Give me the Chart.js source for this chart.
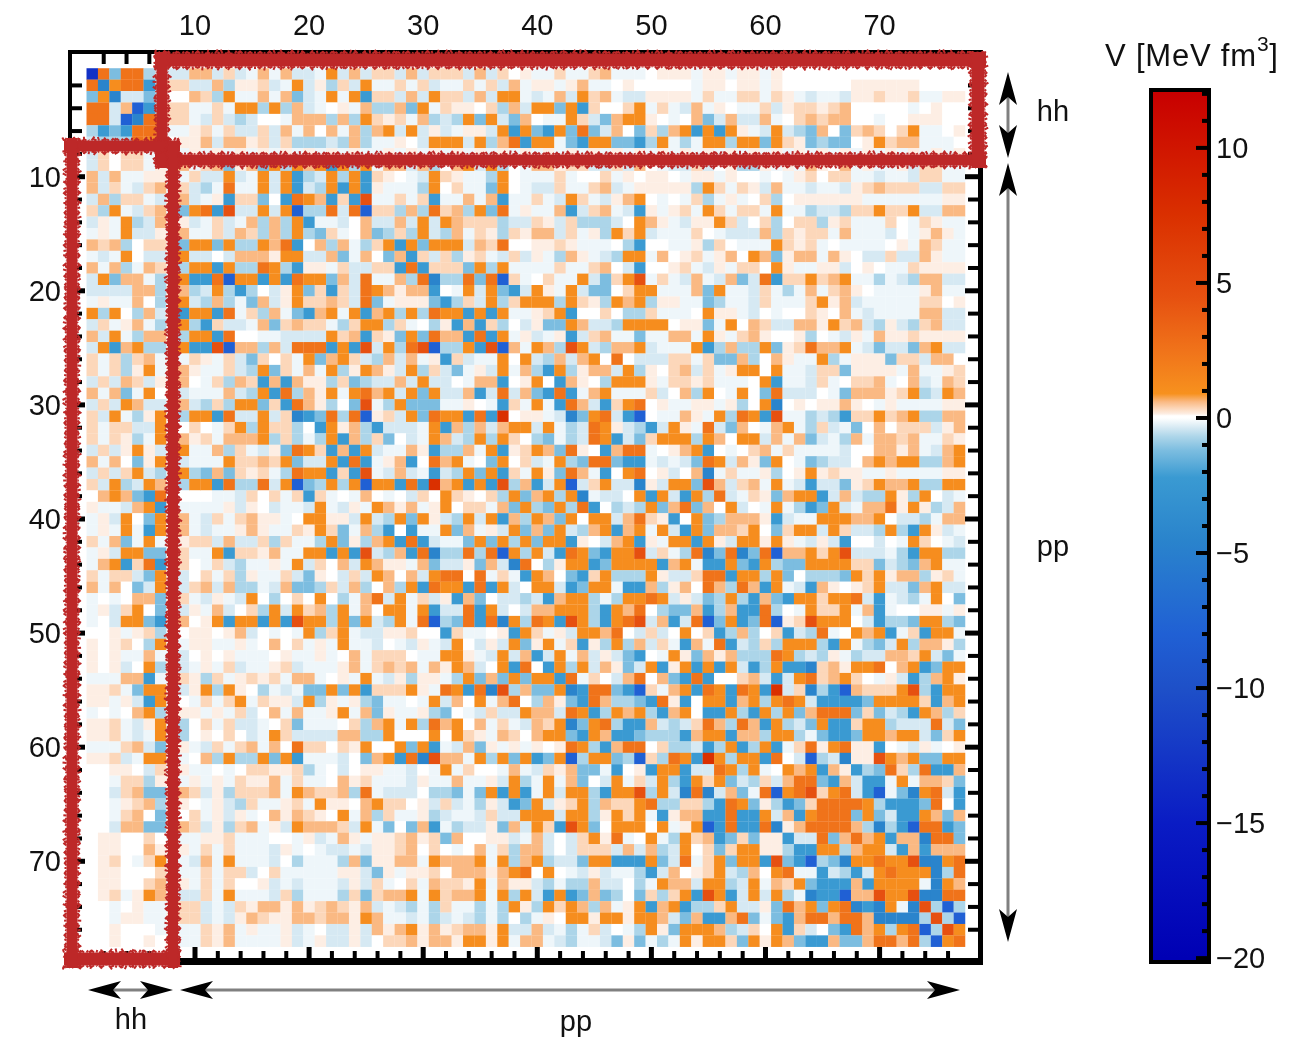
<!DOCTYPE html>
<html>
<head>
<meta charset="utf-8">
<title>V matrix</title>
<script src="https://cdn.jsdelivr.net/npm/chart.js@4"></script>
<style>
    body { margin: 0; background: #ffffff; }
    canvas { position: absolute; top: 0; }
    #matrixChart { left: 0; }
    #colorbarChart { left: 1100px; }
</style>
</head>
<body>
<canvas id="matrixChart" width="1291" height="1039"></canvas>
<canvas id="colorbarChart" width="191" height="1039"></canvas>
<script>
// level codes, one char per cell
var levelCodes = ['0', 'a', 'b', 'c', 'd', 'e', 'f', 'g', '1', '2', '3', '4', '5', '6', '7', '8'];
var levelValues = [0, 0.15, 0.35, 0.6, 1.1, 2.5, 4.5, 7.5, -0.15, -0.35, -0.7, -1.2, -2.2, -4.5, -8, -13];

// upper triangle of the symmetric matrix, row i starts at column i
// rows 8 and 9 sit under the red marker, those are rough estimates
var matrixRows = [
    '8e4ee32 22cc2b21c1c221d2c2 bb2c2bbb2c2b0a11b11bc1110aaa 1aa1aa1a0000000000000000',
    '6dee5 3bb22c3aab21d2a3b2d 11b1b211b1b2c1aa1ac110a00000 1aa0aa1a000000aaaaaa0000',
    '6224 300cb3d11c1c421d1d5 bb2c2dbb2c2dd121c2dbc122aaaa 1b11bb1ba12112aabaab11aa',
    'c75 3bb11b1dd3d3c210a1c 33c4d1baa0b3c2dd4d5b00bd1b12 c1a011b2abbabc0000010a00',
    '6e ebb12b232001ccc3c3d bab1c323d4d24c011db24cdda010 c42c22c10bcbcc00100aaa00',
    'e d11ab1b22b2c1c0c1c3 cd2d2a21aa2d5d45d4e42c04b3cd 5d5da12d234c04bcb0bd110a',
    'd0aac2ccab2b33323c3 11a02ddd2d3ce5dd145dd4453d13 1dd3dd4dba43440adbcc1110',
    'a1a1a1a1a1a1a1a1a1 1a1a1a1a1a1a1a1a1a1a1a1a1a1a 1a1a1a1a1a1a1a1a1a1a1a1a',
    'c 1bc4ac4d3dcd5d3d 1cc2c30cd2d301ccabb22b2c0122 b20a33a1a1ca0c1a11a2bb11',
    'b22d21d2d532d3d5 ba012dba113d0111b100b1a0aa01 aa1a00101ab0bb112112bb11',
    '31e11d2d523d5d5 a1113d0b114d0122b11bc21aaaaa 3db1ba2c112112abcbbb22bb',
    'a5bb405edc5b5f 11b1b511c1c511b12db12acd0101 b31a10b30aaaaaa1111111aa',
    'f22d2d733e2e7 bb3c3ebc3d4e1a11c52bc125a1ab 1db1bb1d113223bbdbbd22cc',
    '1c3c3d51120c 22c2d2dcbbb322ba2b33320dca12 aadb20b30bb3ab111b01ba11',
    'b3c3d34b10c 43b3d23c1ba3bacc2b1a3dbd2111 b01222c3babb1c111201aca1',
    'dce50c3c13 bd5d4ddd2cbe00aaba1110350011 a3b0111dbab1011110a1cb11',
    'add22c41c 04c5b2b3ab12b2a13ca123dd1c0a b1ac0dc4acc1ca022b22ca11',
    '35aa1b22 bb5e5bbb4d3d1111b11bc02500ab 12a1bb0da11aa20a011baaaa',
    'edd4c2e 11c3e633e4e7b10b11d24bdf1b12 c12c42e5bbdbcd113123cc22',
    '4b5b2e dcacc501d2d452da1d2440bdd111 c4d112b131c1bca01111ac11',
    'bcb2e 41aaa453b2d3bddd3dba3dcd3aa1 143112b111bdac211111bb0a',
    'd1d5 cd3d3edd5d5d11abd500b033b111 0daa120100ba0c121111cc22',
    '3bd d3b103a5c5b302a44dc223dddd0a a41d0cb22ccadbc23a23bc22',
    'c5 ba4d4ecc5e5d1a21a52bc11411cc 1da1bca00a3012a1caabaaaa',
    'f 2d3ef733d5f7c1dc3fd23ccd2111 d53c33d4abeccd124224cd22',
    '3c2c1a5b211d0d23c2cd0e0222bb 1b44c30ca11d31aaa4bb2cc0',
    'a2d3b241a2d1c35d3acc2d3a0bc 2b1add0d112bb4aaaa1c11ab',
    'c2d2201cc50ad05ca03ddda1bb ab1110d5112b10bbc10c21cb',
    'd4d22c52e2c45e51cd111b20c 3d01d04e222014cccabd32dc',
    '4411a015b1d15ec25bde0a11 aa1a30d60a0aaca01a1111aa',
    'edd5e5g0aa1264de257011c a1d3ed5f113235bbdbcd33cc',
    '5c3c2cdd2d132eda2352da 1e24c01cd13b2140c0bbb2ac',
    '23d3db034132ed524bddd 3dc0dd2c1c4213c1ccbc11ba',
    'c1d5abdc4ea05cee10ac d5010bc1b1111200ccac12cd',
    '04d0b21d34ee4551212 4ed2ca4d0143220cdcdd33cd',
    'd5b1da4ec150de0a20 c61b11a30adabaa11a1111aa',
    'f3c52d72bd226a2dd 4fc2bc1d125224abdccd33dd',
    'd4cd3d61220d5d25 d3e21ba4cdd52c233da3d021',
    'd34d3e50323d4ce 4c0d201d1354d21cceada32c',
    'dc4d0dd2ceba50 d43ccca5211dddccd02231cc',
    '4d23cd5cd1d25 d4ccbd04bdd2db223d35da21',
    'd5a02cd5a1dd 5da2ddada12a2500201db012',
    'ed45ddf2b13 e64e64e7ccdbdf222135dd33',
    'd54dddd5cd 155d45d344ddddbb4234cd11',
    'bd333da22 bee5dd3d403334dbdacc3ab1',
    'd155c3ac 0ec3ec5d125ca0abd224cd22',
    '3dded2a 243d35c45ddbdde251231d04',
    'ce0344 c53c55e301dbbd1c5100aa1a',
    'f2c52 e74d54e7abfddd025334dd34',
    'b20d 0b53c30b523e10dcd51b5dd1',
    'b15 c1e523b3ddd35d1342d3cca3',
    'da 4cac333ed323a1322ccbd241',
    'd5d5d253d556bcadde0cd54dd',
    'e500bc252debcdb01a253cda',
    'ed5ed5g2b6357cbbbdf35dd',
    'd5cd3ded255554ddddb5cd',
    'd35d3d4ceee4b4235dc3b',
    'ec5d324d55bdd3222e24',
    'c3dd314554ddcdd24bd',
    'd51beadeaa5012a10a',
    'e027326aafdcd44dd',
    'dcd5ca534eb3e55c',
    'ee45c2551d1ccb4',
    'fbde257146de25',
    'eeeed35554e05',
    'ee4d4255dc4c',
    'ec36357ee54',
    'ecd5cc6ee4',
    'dd25c5ccc',
    'eddf66de',
    'eddd63e',
    'dd16dc',
    'f66ee',
    'f373',
    'f37',
    'fd',
    'e'
];

var xTickValues = [10, 20, 30, 40, 50, 60, 70];
var yTickValues = [10, 20, 30, 40, 50, 60, 70];
var innerTickValues = [2, 4, 6, 8, 10, 12, 14, 16, 18, 20, 22, 24, 26, 28, 30, 32, 34, 36, 38, 40,
    42, 44, 46, 48, 50, 52, 54, 56, 58, 60, 62, 64, 66, 68, 70, 72, 74, 76];
var colorbarTickValues = [10, 5, 0, -5, -10, -15, -20];
var colorbarMinorValues = [12, 11, 9, 8, 7, 6, 4, 3, 2, 1, -1, -2, -3, -4, -6, -7, -8, -9,
    -11, -12, -13, -14, -16, -17, -18, -19];

// colour map as seen on the colour bar
var stopValues = [-20, -15, -10, -8, -4.5, -2.2, -1.2, -0.7, -0.35, -0.15, 0, 0.08, 0.15, 0.35, 0.6, 0.9, 2.5, 4.5, 7.5, 12];
var stopColors = ['#0000b4', '#0a1cc4', '#1e50c8', '#2060d4', '#2a84cc', '#3a9ad2', '#7cbde0', '#acd5e9',
    '#d6e9f3', '#eef6fa', '#ffffff', '#ffffff', '#fdeee4', '#fcd7ba', '#fab983', '#f7911e',
    '#f0731a', '#e65010', '#da3000', '#c80000'];

// red marker boxes painted over the figure: [x1, y1, x2, y2, thickness]
var redBands = [
    [155, 60, 986, 60, 17], [155, 160, 986, 160, 15], [162, 52, 162, 168, 15], [978, 52, 978, 168, 17],
    [64, 146, 180, 146, 15], [64, 959, 180, 959, 17], [72, 138, 72, 968, 15], [173, 146, 173, 968, 14]
];

function hexToRgb(hex) {
    return [parseInt(hex.substr(1, 2), 16), parseInt(hex.substr(3, 2), 16), parseInt(hex.substr(5, 2), 16)];
}

function colorFor(value) {
    for (var k = 1; k < stopValues.length; k++) {
        if (value <= stopValues[k]) {
            var t = (value - stopValues[k - 1]) / (stopValues[k] - stopValues[k - 1]);
            var a = hexToRgb(stopColors[k - 1]);
            var b = hexToRgb(stopColors[k]);
            return 'rgb(' + Math.round(a[0] + (b[0] - a[0]) * t) + ',' +
                Math.round(a[1] + (b[1] - a[1]) * t) + ',' +
                Math.round(a[2] + (b[2] - a[2]) * t) + ')';
        }
    }
    return stopColors[stopColors.length - 1];
}

// build the points from the rows, mirrored over the diagonal
var cells = [];
var cellColors = [];
matrixRows.forEach(function (row, r) {
    var chars = row.replace(/ /g, '');
    for (var c = 0; c < chars.length; c++) {
        var idx = levelCodes.indexOf(chars[c]);
        var value = idx >= 0 ? levelValues[idx] : 0;
        cells.push({ x: r + c + 1, y: r + 1 });
        cellColors.push(colorFor(value));
        if (c > 0) {
            cells.push({ x: r + 1, y: r + c + 1 });
            cellColors.push(colorFor(value));
        }
    }
});

var fontFamily = '"Liberation Sans", Arial, sans-serif';
var textColor = '#111111';

function drawArrowHead(ctx, x, y, dx, dy) {
    // tip at x,y pointing along dx,dy
    var len = 33, half = 9, notch = 8;
    ctx.beginPath();
    ctx.moveTo(x, y);
    ctx.lineTo(x - dx * len - dy * half, y - dy * len - dx * half);
    ctx.lineTo(x - dx * (len - notch), y - dy * (len - notch));
    ctx.lineTo(x - dx * len + dy * half, y - dy * len + dx * half);
    ctx.closePath();
    ctx.fillStyle = '#000000';
    ctx.fill();
}

function drawArrow(ctx, x1, y1, x2, y2) {
    var dx = x2 > x1 ? 1 : 0, dy = y2 > y1 ? 1 : 0;
    ctx.strokeStyle = '#808080';
    ctx.lineWidth = 3;
    ctx.beginPath();
    ctx.moveTo(x1 + dx * 10, y1 + dy * 10);
    ctx.lineTo(x2 - dx * 10, y2 - dy * 10);
    ctx.stroke();
    drawArrowHead(ctx, x2, y2, dx, dy);
    drawArrowHead(ctx, x1, y1, -dx, -dy);
}

// solid core with short scratchy strokes along both edges
function drawRoughBand(ctx, band) {
    var x1 = band[0], y1 = band[1], x2 = band[2], y2 = band[3], thick = band[4];
    var horizontal = y1 === y2;
    var length = horizontal ? x2 - x1 : y2 - y1;
    var halfCore = thick / 2 - 2;
    ctx.fillStyle = '#bd2828';
    if (horizontal) {
        ctx.fillRect(x1, y1 - halfCore, length, halfCore * 2);
    } else {
        ctx.fillRect(x1 - halfCore, y1, halfCore * 2, length);
    }
    ctx.strokeStyle = '#bd2828';
    ctx.lineWidth = 2;
    ctx.beginPath();
    for (var p = 0; p <= length; p += 2.5) {
        var n = p + x1 * 0.3 + y1 * 0.7;
        var up = 2 + 2 * Math.sin(n * 1.3) * Math.sin(n * 0.37);
        var down = 2 + 2 * Math.sin(n * 0.9 + 2) * Math.sin(n * 0.21 + 1);
        var skew = 3 * Math.sin(n * 0.6);
        if (horizontal) {
            ctx.moveTo(x1 + p, y1 - halfCore);
            ctx.lineTo(x1 + p + skew, y1 - halfCore - up);
            ctx.moveTo(x1 + p, y1 + halfCore);
            ctx.lineTo(x1 + p + skew, y1 + halfCore + down);
        } else {
            ctx.moveTo(x1 - halfCore, y1 + p);
            ctx.lineTo(x1 - halfCore - up, y1 + p + skew);
            ctx.moveTo(x1 + halfCore, y1 + p);
            ctx.lineTo(x1 + halfCore + down, y1 + p + skew);
        }
    }
    ctx.stroke();
}

var framePlugin = {
    id: 'framePlugin',
    afterDatasetsDraw: function (chart) {
        var ctx = chart.ctx, area = chart.chartArea;
        var xs = chart.scales.x, ys = chart.scales.y;
        ctx.save();
        ctx.fillStyle = '#000000';
        // inward ticks on all four sides
        innerTickValues.forEach(function (v) {
            var major = v % 10 === 0;
            var w = major ? 5 : 4;
            var px = xs.getPixelForValue(v), py = ys.getPixelForValue(v);
            ctx.fillRect(px - w / 2, area.top, w, major ? 14 : 12);
            ctx.fillRect(px - w / 2, area.bottom - (major ? 14 : 10), w, major ? 14 : 10);
            ctx.fillRect(area.left, py - w / 2, major ? 15 : 12, w);
            ctx.fillRect(area.right - (major ? 15 : 12), py - w / 2, major ? 15 : 12, w);
        });
        // frame, heavier on the right and bottom
        ctx.fillRect(area.left - 2, area.top - 2, area.right - area.left + 5, 4);
        ctx.fillRect(area.left - 2, area.top - 2, 4, area.bottom - area.top + 6);
        ctx.fillRect(area.right - 2, area.top - 2, 5, area.bottom - area.top + 6);
        ctx.fillRect(area.left - 2, area.bottom - 3, area.right - area.left + 5, 7);
        redBands.forEach(function (band) {
            drawRoughBand(ctx, band);
        });
        ctx.restore();
    },
    afterDraw: function (chart) {
        var ctx = chart.ctx;
        ctx.save();
        drawArrow(ctx, 88, 990, 173, 990);
        drawArrow(ctx, 180, 990, 960, 990);
        drawArrow(ctx, 1008, 72, 1008, 158);
        drawArrow(ctx, 1008, 163, 1008, 942);
        ctx.fillStyle = textColor;
        ctx.font = '29px ' + fontFamily;
        ctx.textBaseline = 'middle';
        ctx.textAlign = 'center';
        ctx.fillText('hh', 131, 1021);
        ctx.fillText('pp', 576, 1023);
        ctx.fillText('hh', 1053, 113);
        ctx.fillText('pp', 1053, 548);
        // colour bar title with raised 3
        ctx.textAlign = 'left';
        ctx.font = '31px ' + fontFamily;
        ctx.letterSpacing = '0.8px';
        ctx.fillText('V [MeV fm', 1105, 57);
        var w = ctx.measureText('V [MeV fm').width;
        ctx.font = '21px ' + fontFamily;
        ctx.fillText('3', 1105 + w, 45);
        var w3 = ctx.measureText('3').width;
        ctx.font = '31px ' + fontFamily;
        ctx.fillText(']', 1105 + w + w3, 57);
        ctx.restore();
    }
};

function matrixChart() {
    var ctx = document.getElementById('matrixChart').getContext('2d');
    return new Chart(ctx, {
        type: 'scatter',
        data: {
            datasets: [{
                data: cells,
                backgroundColor: cellColors,
                borderWidth: 0,
                pointStyle: 'rect',
                pointRadius: 8.2,
                pointHoverRadius: 8.2
            }]
        },
        options: {
            responsive: false,
            animation: false,
            events: [],
            layout: { padding: { left: 0, top: 0, right: 311, bottom: 78 } },
            plugins: { legend: { display: false }, tooltip: { enabled: false } },
            scales: {
                x: {
                    type: 'linear',
                    position: 'top',
                    min: -0.955,
                    max: 78.8,
                    grid: { display: false },
                    border: { display: false },
                    afterBuildTicks: function (scale) {
                        scale.ticks = xTickValues.map(function (v) { return { value: v }; });
                    },
                    afterFit: function (scale) { scale.height = 52; },
                    ticks: {
                        color: textColor,
                        font: { family: fontFamily, size: 29 },
                        padding: 0,
                        maxRotation: 0,
                        autoSkip: false
                    }
                },
                y: {
                    type: 'linear',
                    reverse: true,
                    min: -0.93,
                    max: 78.74,
                    grid: { display: false },
                    border: { display: false },
                    afterBuildTicks: function (scale) {
                        scale.ticks = yTickValues.map(function (v) { return { value: v }; });
                    },
                    afterFit: function (scale) { scale.width = 70; },
                    ticks: {
                        color: textColor,
                        font: { family: fontFamily, size: 29 },
                        padding: 1,
                        labelOffset: 2,
                        autoSkip: false
                    }
                }
            }
        },
        plugins: [framePlugin]
    });
}

var colorbarFrame = {
    id: 'colorbarFrame',
    afterDatasetsDraw: function (chart) {
        var ctx = chart.ctx, area = chart.chartArea, ys = chart.scales.y;
        ctx.save();
        ctx.fillStyle = '#000000';
        colorbarTickValues.forEach(function (v) {
            ctx.fillRect(area.right - 11, ys.getPixelForValue(v) - 2, 11, 4);
        });
        colorbarMinorValues.forEach(function (v) {
            ctx.fillRect(area.right - 5, ys.getPixelForValue(v) - 2, 5, 4);
        });
        ctx.strokeStyle = '#000000';
        ctx.lineWidth = 4;
        ctx.strokeRect(area.left - 2, area.top - 2, area.right - area.left + 4, area.bottom - area.top + 4);
        ctx.restore();
    }
};

function colorbarChart() {
    var ctx = document.getElementById('colorbarChart').getContext('2d');
    return new Chart(ctx, {
        type: 'bar',
        data: {
            labels: ['V'],
            datasets: [{
                data: [[-20.07, 12.07]],
                categoryPercentage: 1,
                barPercentage: 1,
                backgroundColor: function (context) {
                    var area = context.chart.chartArea;
                    if (!area) {
                        return '#ffffff';
                    }
                    var ys = context.chart.scales.y;
                    var top = ys.getPixelForValue(12.07), bottom = ys.getPixelForValue(-20.07);
                    var grad = context.chart.ctx.createLinearGradient(0, bottom, 0, top);
                    stopValues.forEach(function (v, k) {
                        grad.addColorStop((v + 20.07) / 32.14, stopColors[k]);
                    });
                    return grad;
                }
            }]
        },
        options: {
            responsive: false,
            animation: false,
            events: [],
            layout: { padding: { left: 53, top: 92, right: 0, bottom: 79 } },
            plugins: { legend: { display: false }, tooltip: { enabled: false } },
            scales: {
                x: { display: false },
                y: {
                    position: 'right',
                    min: -20.07,
                    max: 12.07,
                    grid: { display: false },
                    border: { display: false },
                    afterBuildTicks: function (scale) {
                        scale.ticks = colorbarTickValues.map(function (v) { return { value: v }; });
                    },
                    afterFit: function (scale) { scale.width = 84; },
                    ticks: {
                        color: textColor,
                        font: { family: fontFamily, size: 29 },
                        padding: 1,
                        labelOffset: 2,
                        autoSkip: false,
                        callback: function (v) {
                            return v < 0 ? '\u2212' + Math.abs(v) : String(v);
                        }
                    }
                }
            }
        },
        plugins: [colorbarFrame]
    });
}

document.addEventListener('DOMContentLoaded', function () {
    matrixChart();
    colorbarChart();
});
</script>
</body>
</html>
